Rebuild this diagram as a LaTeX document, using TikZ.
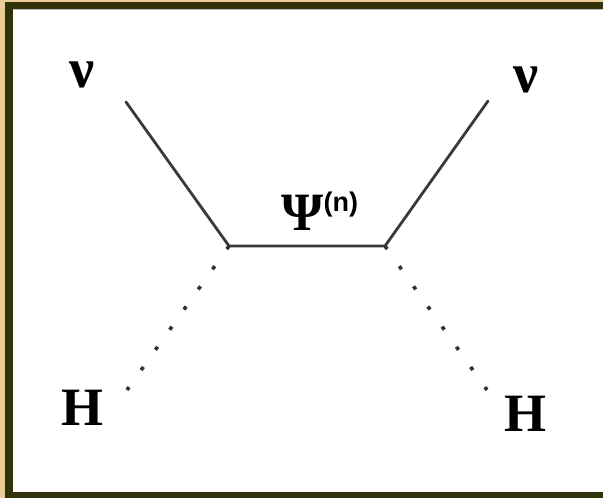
\documentclass[tikz,border=0pt]{standalone}
\usepackage{fontspec}
\setmainfont{Liberation Serif}
\newfontfamily\supfont{Liberation Sans}
\definecolor{tanbg}{HTML}{E9CD95}
\definecolor{framecol}{HTML}{33330A}
\definecolor{linecol}{HTML}{3A3A3A}
\tikzset{
  solidline/.style={draw=linecol, line width=1.4pt, line cap=round, line join=round},
  dotline/.style={draw=black!80, line width=1.8pt, dash pattern=on 1.9pt off 10.45pt},
  lbl/.style={inner sep=0pt, font=\fontsize{27}{30}\selectfont\bfseries},
}
\begin{document}
\begin{tikzpicture}[x=0.5pt,y=-0.5pt]
\useasboundingbox (0,0) rectangle (603,498);
\fill[tanbg] (0,0) rectangle (603,498);
\fill[framecol] (5,2) rectangle (603,498);
\fill[white] (13,9) rectangle (603,492);
\draw[gray!55, line width=0.6pt] (13,9.5) -- (603,9.5);

\coordinate (v1) at (229,246);
\coordinate (v2) at (385,246);
\coordinate (a) at (126,102);
\coordinate (b) at (488,101);
\coordinate (h1) at (127,390);
\coordinate (h2) at (487,390);

\draw[solidline] (a) -- (v1) -- (v2) -- (b);
\draw[dotline] (v1) -- (h1);
\draw[dotline] (v2) -- (h2);

\node[lbl, font=\fontsize{28}{30}\selectfont\bfseries] (nu1) at (82,75) {ν};
\node[lbl, font=\fontsize{28}{30}\selectfont\bfseries] (nu2) at (526,80) {ν};
\node[lbl] (H1) at (82.5,407.5) {H};
\node[lbl] (H2) at (525,414) {H};
\node[lbl, anchor=base west] (psi) at (281,230) {Ψ{\supfont\bfseries\fontsize{13.5}{14}\selectfont\raisebox{9.25pt}{(n)}}};
\end{tikzpicture}
\end{document}
